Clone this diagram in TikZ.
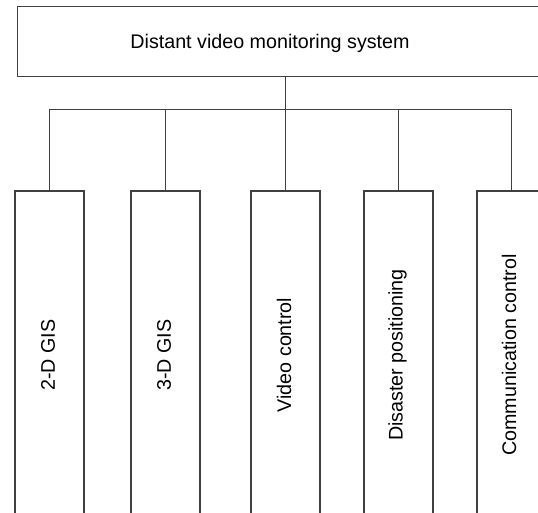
\documentclass[tikz,border=0pt]{standalone}
\usepackage{fontspec}
\setmainfont{Liberation Sans}
\begin{document}
\begin{tikzpicture}[x=1pt,y=-1pt,
  line/.style={draw=black!75, line width=1.2pt},
  unitbox/.style={line, rectangle, minimum width=69pt, minimum height=328pt, inner sep=0pt},
  label/.style={font=\fontsize{19.7}{23}\selectfont, text=black, inner sep=0pt},
  vlabel/.style={label, rotate=90}]
\useasboundingbox (0,0) rectangle (538,512);
% top-level system box (runs off the right edge)
\node[line, rectangle, minimum width=527.5pt, minimum height=70pt, inner sep=0pt] (sys) at (281.25,41.7) {};
\node[label] (systxt) at (270,43) {Distant video monitoring system};
% subsystem boxes
\node[unitbox] (b1) at (49.5,355) {};
\node[unitbox] (b2) at (165.5,355) {};
\node[unitbox] (b3) at (285.5,355) {};
\node[unitbox] (b4) at (398.5,355) {};
\node[unitbox] (b5) at (511.5,355) {};
\node[vlabel] (t1) at (48,355) {2-D GIS};
\node[vlabel] (t2) at (164,355) {3-D GIS};
\node[vlabel] (t3) at (284,355) {Video control};
\node[vlabel] (t4) at (397.5,355) {Disaster positioning};
\node[vlabel] (t5) at (509,355) {Communication control};
% tree connectors
\coordinate (bus) at (285.6,109.3);
\draw[line] (sys.south -| bus) -- (bus);
\draw[line] (b1.north) -- (b1.north |- bus) -- (b5.north |- bus) -- (b5.north);
\foreach \b in {b2,b3,b4} \draw[line] (\b.north) -- (\b.north |- bus);
\end{tikzpicture}
\end{document}
